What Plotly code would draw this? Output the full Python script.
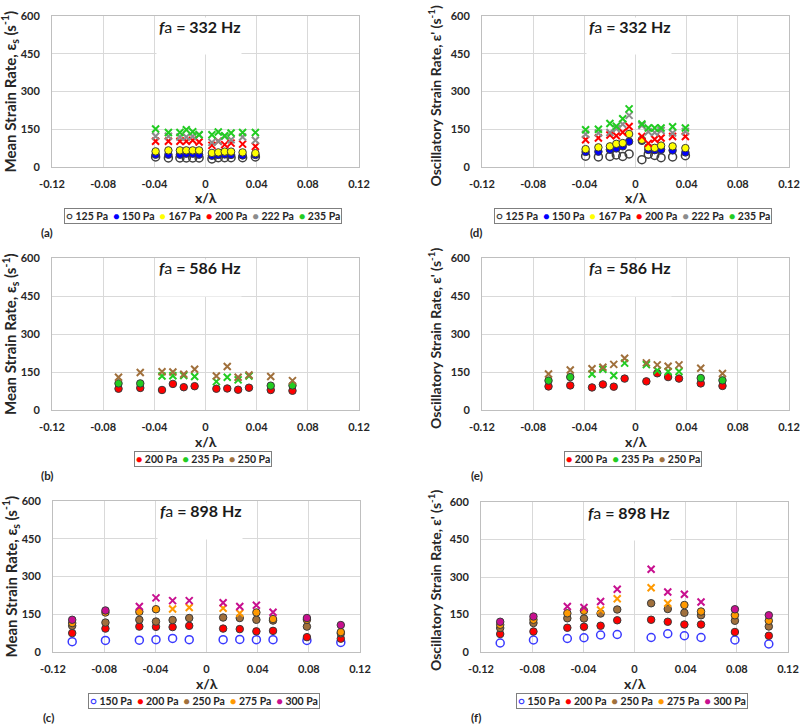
import plotly.graph_objects as go

W, H = 800, 726
FONT = "Lato"

# ---------------- tick labels ----------------
x_ticks = [-0.12, -0.08, -0.04, 0, 0.04, 0.08, 0.12]
x_tick_labels = ["-0.12", "-0.08", "-0.04", "0", "0.04", "0.08", "0.12"]
y_ticks = [0, 150, 300, 450, 600]
y_tick_labels = ["0", "150", "300", "450", "600"]

# ---------------- f_a = 332 Hz : panels (a) and (d) ----------------
x_332 = [-0.039, -0.029, -0.020, -0.015, -0.010, -0.005, 0.005, 0.010, 0.015, 0.020, 0.029, 0.039]
a_125 = [40, 36, 36, 36, 36, 36, 32, 37, 37, 37, 37, 40]
a_150 = [49, 49, 49, 53, 53, 49, 45, 48, 50, 48, 46, 48]
a_167 = [62, 66, 66, 66, 66, 66, 56, 58, 61, 61, 58, 55]
a_200 = [102, 102, 102, 102, 106, 99, 86, 102, 89, 95, 91, 82]
a_222 = [122, 122, 119, 119, 122, 128, 98, 102, 122, 108, 119, 106]
a_235 = [151, 137, 137, 148, 140, 128, 128, 139, 124, 135, 137, 137]

d_125 = [43, 40, 42, 48, 42, 52, 29, 51, 46, 37, 40, 45]
d_150 = [60, 61, 69, 74, 82, 101, 104, 68, 67, 69, 66, 58]
d_167 = [71, 78, 82, 92, 95, 131, 108, 78, 76, 85, 82, 75]
d_200 = [108, 115, 127, 124, 138, 161, 121, 94, 110, 115, 121, 121]
d_222 = [130, 135, 137, 152, 170, 205, 165, 140, 137, 145, 135, 141]
d_235 = [148, 150, 173, 162, 192, 231, 171, 155, 155, 155, 160, 155]

# ---------------- f_a = 586 Hz : panels (b) and (e) ----------------
x_586 = [-0.068, -0.051, -0.034, -0.0255, -0.017, -0.0085, 0.0085, 0.017, 0.0255, 0.034, 0.051, 0.068]
b_200 = [84, 87, 79, 103, 90, 94, 84, 85, 80, 88, 79, 76]
b_235 = [105, 105, 134, 135, 136, 132, 112, 129, 119, 134, 96, 97]
b_250 = [129, 148, 151, 150, 141, 161, 134, 172, 129, 138, 132, 116]

e_200 = [93, 97, 89, 101, 92, 124, 113, 145, 130, 124, 105, 95]
e_235 = [116, 130, 142, 161, 136, 185, 179, 156, 152, 152, 126, 117]
e_250 = [142, 158, 163, 169, 180, 204, 186, 178, 173, 178, 165, 144]

# ---------------- f_a = 898 Hz : panels (c) and (f) ----------------
x_898 = [-0.105, -0.079, -0.0525, -0.0395, -0.0265, -0.0135, 0.013, 0.026, 0.039, 0.052, 0.0785, 0.105]
c_150 = [41, 46, 47, 49, 54, 49, 49, 50, 49, 49, 46, 38]
c_200 = [75, 93, 101, 100, 99, 104, 93, 91, 82, 84, 59, 53]
c_250 = [104, 117, 128, 121, 127, 135, 137, 135, 128, 125, 101, 74]
c_275 = [115, 157, 160, 170, 171, 177, 174, 154, 157, 131, 128, 79]
c_300 = [128, 165, 181, 215, 204, 204, 196, 181, 186, 158, 135, 107]

f_150 = [36, 48, 54, 57, 68, 70, 58, 73, 65, 58, 48, 32]
f_200 = [72, 82, 97, 101, 105, 127, 129, 121, 110, 110, 80, 65]
f_250 = [96, 116, 135, 134, 154, 170, 195, 172, 157, 147, 125, 102]
f_275 = [109, 129, 155, 165, 168, 213, 257, 195, 188, 162, 147, 125]
f_300 = [121, 142, 182, 178, 202, 251, 331, 240, 231, 200, 171, 147]

# indices of points drawn with an "x" marker
ALL = list(range(12))
INNER_8 = list(range(2, 10))
INNER_4 = list(range(4, 8))
NONE = []

# ---------------- style ----------------
COL = {
    "125": "#404040", "150": "#0000FF", "167": "#FFFF00", "200": "#FF0000",
    "222": "#8C8C8C", "235": "#22CC22", "250": "#A0703C", "275": "#FF9900",
    "300": "#C8108F", "150o": "#3A3AFF",
}

series_332_a = [("125 Pa", a_125, "125", "open", NONE), ("150 Pa", a_150, "150", "fill", NONE),
                ("167 Pa", a_167, "167", "fill", NONE), ("200 Pa", a_200, "200", "fill", ALL),
                ("222 Pa", a_222, "222", "fill", ALL), ("235 Pa", a_235, "235", "fill", ALL)]
series_332_d = [("125 Pa", d_125, "125", "open", NONE), ("150 Pa", d_150, "150", "fill", NONE),
                ("167 Pa", d_167, "167", "fill", NONE), ("200 Pa", d_200, "200", "fill", ALL),
                ("222 Pa", d_222, "222", "fill", ALL), ("235 Pa", d_235, "235", "fill", ALL)]
series_586_b = [("200 Pa", b_200, "200", "fill", NONE), ("235 Pa", b_235, "235", "fill", INNER_8),
                ("250 Pa", b_250, "250", "fill", ALL)]
series_586_e = [("200 Pa", e_200, "200", "fill", NONE), ("235 Pa", e_235, "235", "fill", INNER_8),
                ("250 Pa", e_250, "250", "fill", ALL)]
series_898_c = [("150 Pa", c_150, "150o", "open", NONE), ("200 Pa", c_200, "200", "fill", NONE),
                ("250 Pa", c_250, "250", "fill", NONE), ("275 Pa", c_275, "275", "fill", INNER_4),
                ("300 Pa", c_300, "300", "fill", INNER_8)]
series_898_f = [("150 Pa", f_150, "150o", "open", NONE), ("200 Pa", f_200, "200", "fill", NONE),
                ("250 Pa", f_250, "250", "fill", NONE), ("275 Pa", f_275, "275", "fill", INNER_4),
                ("300 Pa", f_300, "300", "fill", INNER_8)]

Y_MEAN = "Mean Strain Rate, ε<sub>s</sub> (s<sup>-1</sup>)"
Y_OSC = "Oscillatory Strain Rate, ε' (s<sup>-1</sup>)"

panels = [
    (1, x_332, series_332_a, "332", Y_MEAN, "(a)", (52, 359), (16, 167)),
    (2, x_332, series_332_d, "332", Y_OSC, "(d)", (482, 789), (16, 167)),
    (3, x_586, series_586_b, "586", Y_MEAN, "(b)", (52, 359), (258, 410)),
    (4, x_586, series_586_e, "586", Y_OSC, "(e)", (482, 789), (258, 410)),
    (5, x_898, series_898_c, "898", Y_MEAN, "(c)", (53, 360), (501, 652)),
    (6, x_898, series_898_f, "898", Y_OSC, "(f)", (481, 788), (502, 652)),
]


def fx(px):
    return px / W


def fy(py):
    return 1 - py / H


fig = go.Figure()
annotations = []
layout_axes = {}

for idx, xs, series, freq, ytitle, label, (x0, x1), (y0, y1) in panels:
    xa = "x" if idx == 1 else f"x{idx}"
    ya = "y" if idx == 1 else f"y{idx}"
    for name, vals, ckey, kind, cross in series:
        color = COL[ckey]
        circ_y = [v if i not in cross else None for i, v in enumerate(vals)]
        crs_y = [v if i in cross else None for i, v in enumerate(vals)]
        if any(v is not None for v in circ_y):
            if kind == "open":
                marker = dict(symbol="circle-open", size=8, color=color, line=dict(width=1.5, color=color))
            else:
                marker = dict(symbol="circle", size=7.5, color=color, line=dict(width=1, color="#3a3a3a"))
            fig.add_trace(go.Scatter(x=xs, y=circ_y, mode="markers", marker=marker,
                                     name=name, showlegend=False, xaxis=xa, yaxis=ya))
        if any(v is not None for v in crs_y):
            fig.add_trace(go.Scatter(x=xs, y=crs_y, mode="markers",
                                     marker=dict(symbol="x-thin", size=7, color=color,
                                                 line=dict(width=2, color=color)),
                                     name=name, showlegend=False, xaxis=xa, yaxis=ya))

    key = "" if idx == 1 else str(idx)
    layout_axes[f"xaxis{key}"] = dict(
        domain=[fx(x0), fx(x1)], anchor=ya, range=[-0.12, 0.12],
        tickmode="array", tickvals=x_ticks, ticktext=x_tick_labels,
        showgrid=True, gridcolor="#d9d9d9", gridwidth=1, zeroline=False,
        showline=True, linecolor="#bfbfbf", linewidth=1, mirror=True,
        ticks="", ticklabelstandoff=7, automargin=False,
        tickfont=dict(family=FONT, size=11, color="#262626", weight="bold"),
    )
    layout_axes[f"yaxis{key}"] = dict(
        domain=[fy(y1), fy(y0)], anchor=xa, range=[0, 600],
        tickmode="array", tickvals=y_ticks, ticktext=y_tick_labels,
        showgrid=True, gridcolor="#d9d9d9", gridwidth=1, zeroline=False,
        showline=True, linecolor="#bfbfbf", linewidth=1, mirror=True,
        ticks="", ticklabelstandoff=9, automargin=False,
        tickfont=dict(family=FONT, size=11, color="#262626", weight="bold"),
    )

    cx = (x0 + x1) / 2
    cy = (y0 + y1) / 2
    # white box behind the panel title (hides gridlines there)
    annotations.append(dict(
        text="\u00a0", xref="paper", yref="paper",
        x=fx(cx - 7), y=fy(y0 + 1), xanchor="center", yanchor="top", showarrow=False,
        bgcolor="white", width=84, height=36, borderpad=0,
        font=dict(family=FONT, size=10, color="white"),
    ))
    annotations.append(dict(
        text=f"<b><i>f</i></b>a<b> = {freq} Hz</b>", xref="paper", yref="paper",
        x=fx(cx - 6), y=fy(y0 + 10), xanchor="center", yanchor="middle", showarrow=False,
        font=dict(family=FONT, size=16, color="#1a1a1a"),
    ))
    osc = ytitle == Y_OSC
    annotations.append(dict(
        text=f"<b>{ytitle}</b>", xref="paper", yref="paper",
        x=fx(x0 - (47 if osc else 42)), y=fy(cy + (4 if osc else 0)),
        xanchor="center", yanchor="middle", textangle=-90, showarrow=False,
        font=dict(family=FONT, size=14 if osc else 15, color="#262626"),
    ))
    annotations.append(dict(
        text="<b>x/λ</b>", xref="paper", yref="paper", x=fx(cx), y=fy(y1 + 31),
        xanchor="center", yanchor="middle", showarrow=False,
        font=dict(family=FONT, size=14, color="#262626"),
    ))
    items = []
    for name, vals, ckey, kind, cross in series:
        sym = "○" if kind == "open" else "●"
        items.append(f"<span style='color:{COL[ckey]}'>{sym}</span> {name}")
    annotations.append(dict(
        text="<b>" + "\u00a0 ".join(items) + "</b>", xref="paper", yref="paper",
        x=fx(cx - 3), y=fy(y1 + 49), xanchor="center", yanchor="middle", showarrow=False,
        bordercolor="#7f7f7f", borderwidth=1, borderpad=1, bgcolor="white",
        font=dict(family=FONT, size=10.5, color="#262626"),
    ))
    annotations.append(dict(
        text=f"<b>{label}</b>", xref="paper", yref="paper", x=fx(x0 - 5), y=fy(y1 + 65),
        xanchor="center", yanchor="middle", showarrow=False,
        font=dict(family=FONT, size=11.5, color="#262626"),
    ))

fig.update_layout(
    width=W, height=H, margin=dict(l=0, r=0, t=0, b=0, pad=0, autoexpand=False),
    paper_bgcolor="white", plot_bgcolor="white", showlegend=False,
    annotations=annotations, **layout_axes,
)

fig.write_html("out.html", config={"displayModeBar": False},
               post_script="document.body.style.margin='0';")
